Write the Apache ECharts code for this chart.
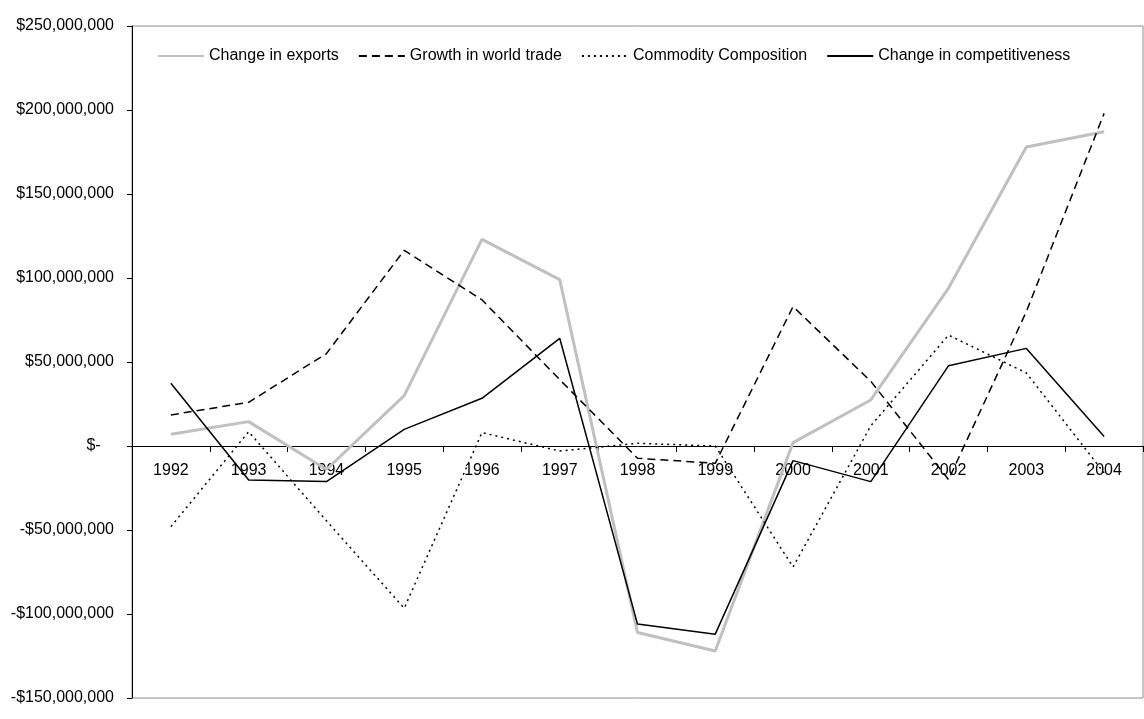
<!DOCTYPE html>
<html>
<head>
<meta charset="utf-8">
<script src="https://cdn.jsdelivr.net/npm/echarts@6/dist/echarts.min.js"></script>
<style>
  html, body { margin: 0; padding: 0; background: #fff; }
  #chart { width: 1144px; height: 719px; }
</style>
</head>
<body>
<div id="chart"></div>
<script>
// Years on the category axis
const years = ['1992','1993','1994','1995','1996','1997','1998','1999','2000','2001','2002','2003','2004'];

// Shift-share decomposition of export change (US dollars)
const changeInExports = [7000000, 14500000, -14000000, 30000000, 123000000, 99000000, -111000000, -122000000, 2000000, 27400000, 94000000, 178000000, 187000000];
const growthInWorldTrade = [18500000, 26000000, 55000000, 116500000, 87000000, 39500000, -7300000, -10300000, 83000000, 38500000, -20000000, 80000000, 198000000];
const commodityComposition = [-48000000, 8500000, -44500000, -96600000, 8000000, -3000000, 1600000, 0, -72000000, 12000000, 66000000, 43500000, -16000000];
const changeInCompetitiveness = [37300000, -20200000, -21200000, 9900000, 28400000, 64100000, -106000000, -112000000, -8700000, -21200000, 47800000, 58100000, 5600000];

// Value axis range
const yMin = -150000000;
const yMax = 250000000;
const yStep = 50000000;

const FONT = '"Liberation Sans", Arial, sans-serif';

// Plot box (pixels)
const GRID_TOP = 26;
const GRID_BOTTOM = 21;
const CHART_H = 719;

function money(v) {
  if (v === 0) return '$-   ';
  const s = Math.abs(v).toLocaleString('en-US');
  return (v < 0 ? '-$' : '$') + s;
}

// The category axis sits on the zero line: lift it from the bottom edge
const plotH = CHART_H - GRID_TOP - GRID_BOTTOM;
const zeroFromBottom = plotH * (0 - yMin) / (yMax - yMin);

const chart = echarts.init(document.getElementById('chart'), null, { renderer: 'canvas' });

chart.setOption({
  animation: false,
  backgroundColor: '#ffffff',
  textStyle: { fontFamily: FONT, color: '#000' },
  grid: {
    left: 132, right: 1, top: GRID_TOP, bottom: GRID_BOTTOM,
    containLabel: false, outerBoundsMode: 'none',
    show: true, borderColor: '#8c8c8c', borderWidth: 1
  },
  legend: {
    left: 157, top: 48, padding: 0,
    itemWidth: 46, itemHeight: 14, itemGap: 19,
    itemStyle: { opacity: 0 },
    textStyle: { fontFamily: FONT, fontSize: 16, color: '#000' },
    data: ['Change in exports', 'Growth in world trade', 'Commodity Composition', 'Change in competitiveness']
  },
  xAxis: {
    type: 'category',
    data: years,
    boundaryGap: true,
    offset: -zeroFromBottom,
    axisLine: { onZero: false, lineStyle: { color: '#000', width: 1 } },
    axisTick: { show: true, interval: 0, length: 6, lineStyle: { color: '#000' } },
    axisLabel: { interval: 0, margin: 17, fontSize: 16, color: '#000', fontFamily: FONT },
    splitLine: { show: false }
  },
  yAxis: {
    type: 'value',
    min: yMin, max: yMax, interval: yStep,
    axisLine: { show: true, lineStyle: { color: '#000', width: 1 } },
    axisTick: { show: true, length: 5, lineStyle: { color: '#000' } },
    axisLabel: { margin: 18, fontSize: 16, color: '#000', fontFamily: FONT, formatter: money },
    splitLine: { show: false }
  },
  series: [
    {
      name: 'Change in exports', type: 'line', data: changeInExports,
      symbol: 'none', lineStyle: { color: '#c0c0c0', width: 3 }, itemStyle: { color: '#c0c0c0' }
    },
    {
      name: 'Growth in world trade', type: 'line', data: growthInWorldTrade,
      symbol: 'none', lineStyle: { color: '#000', width: 1.5, type: [8, 5] }, itemStyle: { color: '#000' }
    },
    {
      name: 'Commodity Composition', type: 'line', data: commodityComposition,
      symbol: 'none', lineStyle: { color: '#000', width: 1.5, type: [2, 4] }, itemStyle: { color: '#000' }
    },
    {
      name: 'Change in competitiveness', type: 'line', data: changeInCompetitiveness,
      symbol: 'none', lineStyle: { color: '#000', width: 1.5 }, itemStyle: { color: '#000' }
    }
  ]
});
</script>
</body>
</html>
